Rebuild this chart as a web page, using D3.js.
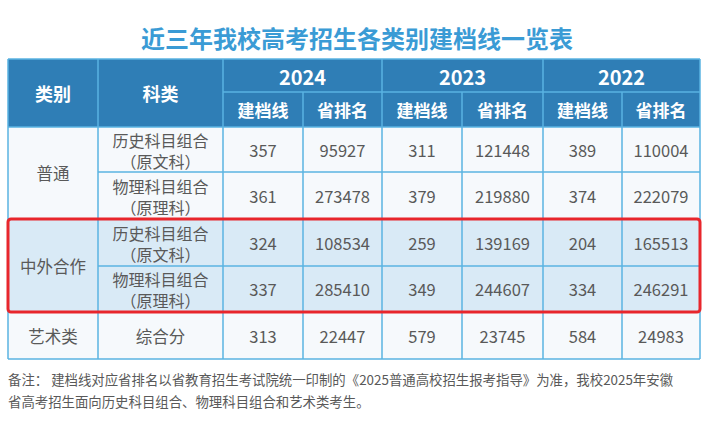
<!DOCTYPE html>
<html><head><meta charset="utf-8">
<script src="https://cdn.jsdelivr.net/npm/d3@7"></script>
<style>body{margin:0;background:#fff}svg{display:block}</style>
</head><body><svg width="714" height="436"></svg>
<script>
const title = "近三年我校高考招生各类别建档线一览表";
const years = ["2024", "2023", "2022"];
const subHeads = ["建档线", "省排名"];
const groups = ["普通", "中外合作", "艺术类"];
const subjects = [
  ["历史科目组合", "（原文科）"], ["物理科目组合", "（原理科）"],
  ["历史科目组合", "（原文科）"], ["物理科目组合", "（原理科）"],
  ["综合分"]
];
const rowGroup = [0, 0, 1, 1, 2];
const values = [
  [357, 95927, 311, 121448, 389, 110004],
  [361, 273478, 379, 219880, 374, 222079],
  [324, 108534, 259, 139169, 204, 165513],
  [337, 285410, 349, 244607, 334, 246291],
  [313, 22447, 579, 23745, 584, 24983]
];
const note = [
  "备注：  建档线对应省排名以省教育招生考试院统一印制的《2025普通高校招生报考指导》为准，我校2025年安徽",
  "省高考招生面向历史科目组合、物理科目组合和艺术类考生。"
];

const svg = d3.select("svg");
const font = "'Noto Sans CJK SC', 'Noto Sans', sans-serif";
const colX = [8, 98, 223, 303, 382, 462, 543, 622, 700];
const headY = [59, 92, 127];
const rowY = [127, 172, 219, 266, 312, 359];
const line = "#5ab3e2", head = "#2f7eb6", txt = "#595959";

svg.append("text").attr("x", 357).attr("y", 48).attr("text-anchor", "middle")
  .attr("font-family", font).attr("font-size", 24).attr("font-weight", "bold")
  .attr("fill", "#3a9bd5").text(title);

// header
svg.append("rect").attr("x", colX[0]).attr("y", headY[0]).attr("width", colX[8] - colX[0])
  .attr("height", headY[2] - headY[0]).attr("fill", head);
// body
rowY.slice(0, -1).forEach((y, i) => {
  svg.append("rect").attr("x", colX[0]).attr("y", y).attr("width", colX[8] - colX[0])
    .attr("height", rowY[i + 1] - y).attr("fill", rowGroup[i] === 1 ? "#d9eaf6" : "#f6f9fc");
});

const L = (x1, y1, x2, y2) => svg.append("line").attr("x1", x1).attr("y1", y1)
  .attr("x2", x2).attr("y2", y2).attr("stroke", line).attr("stroke-width", 1.5);

colX.forEach((x, i) => {
  const y0 = (i >= 3 && i % 2 === 1) ? headY[1] : headY[0];
  L(x, y0, x, rowY[5]);
});
L(colX[2], headY[1], colX[8], headY[1]);
L(colX[0], headY[0], colX[8], headY[0]);
rowY.forEach((y, i) => {
  const inGroup = i > 0 && i < rowY.length - 1 && rowGroup[i] === rowGroup[i - 1];
  L(inGroup ? colX[1] : colX[0], y, colX[8], y);
});

const T = (x, y, s, size, fill, w) => svg.append("text").attr("x", x).attr("y", y)
  .attr("text-anchor", "middle").attr("dominant-baseline", "central")
  .attr("font-family", font).attr("font-size", size).attr("fill", fill)
  .attr("font-weight", w || "normal").text(s);

T((colX[0] + colX[1]) / 2, (headY[0] + headY[2]) / 2, "类别", 18, "#fff", "bold");
T((colX[1] + colX[2]) / 2, (headY[0] + headY[2]) / 2, "科类", 18, "#fff", "bold");
years.forEach((yr, i) => {
  T((colX[2 + 2 * i] + colX[4 + 2 * i]) / 2, (headY[0] + headY[1]) / 2 + 1, yr, 20, "#fff", "bold");
  subHeads.forEach((s, j) => T((colX[2 + 2 * i + j] + colX[3 + 2 * i + j]) / 2,
    (headY[1] + headY[2]) / 2, s, 17, "#fff", "bold"));
});

groups.forEach((g, gi) => {
  const rows = rowGroup.map((r, i) => r === gi ? i : -1).filter(i => i >= 0);
  const y0 = rowY[rows[0]], y1 = rowY[rows[rows.length - 1] + 1];
  T((colX[0] + colX[1]) / 2, (y0 + y1) / 2, g, 16.5, txt);
});

subjects.forEach((s, i) => {
  const cy = (rowY[i] + rowY[i + 1]) / 2;
  if (s.length === 1) T((colX[1] + colX[2]) / 2, cy, s[0], 16.5, txt);
  else {
    T((colX[1] + colX[2]) / 2, cy - 10, s[0], 16, txt);
    T((colX[1] + colX[2]) / 2, cy + 11, s[1], 16, txt);
  }
  values[i].forEach((v, j) => T((colX[2 + j] + colX[3 + j]) / 2, cy, v, 16.5, txt));
});

svg.append("rect").attr("x", colX[0]).attr("y", rowY[2]).attr("width", colX[8] - colX[0])
  .attr("height", rowY[4] - rowY[2]).attr("rx", 3).attr("fill", "none")
  .attr("stroke", "#e8262c").attr("stroke-width", 3);

note.forEach((s, i) => svg.append("text").attr("x", 8).attr("y", 385 + i * 22)
  .attr("font-family", font).attr("font-size", 13.4).attr("fill", txt).text(s));
</script></body></html>
